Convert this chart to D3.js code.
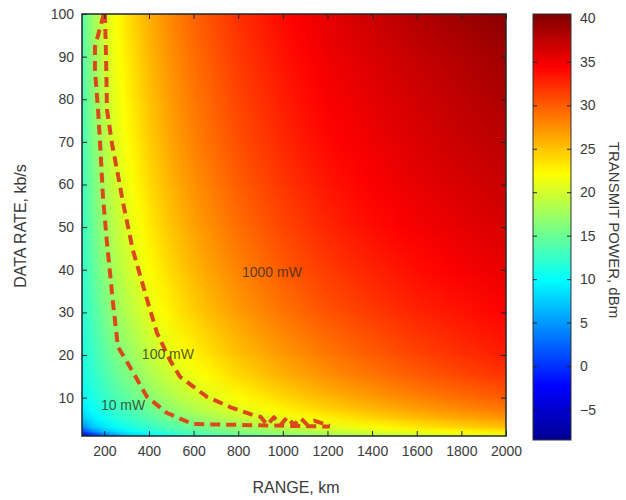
<!DOCTYPE html>
<html><head><meta charset="utf-8">
<script src="https://cdn.jsdelivr.net/npm/d3@7"></script>
<style>
html,body{margin:0;padding:0;background:#fff;}
svg{display:block;font-family:"Liberation Sans",Arial,Helvetica,sans-serif;}
</style></head><body>
<svg id="chart" width="626" height="500"></svg>
<script>
// ---- data ----
const ranges = [100,150,200,250,300,400,500,600,700,800,1000,1200,1400,1600,1800,2000]; // km
const rates  = [1,2,3,5,7,10,15,20,30,40,50,60,70,80,90,100]; // kb/s
// transmit power (dBm), one row per data rate (ascending), one column per range
const power = [
  [-7,  -2,   2,   4.5, 6.5,  9,   11,  12.5, 13.5, 14.5, 16,  17.5, 18.5, 19.5, 20.5, 21],
  [ 0,   4,   6.5, 8,   9.3, 11.2, 12.8, 14,  15,   16,   17.5, 19,  20.3, 21.3, 22.3, 23],
  [ 4,   7,   8.6, 9.8, 10.8, 12.4, 13.8, 15, 16.2, 17.3, 19,  20.6, 21.9, 23.1, 24.1, 25],
  [ 7,   9,  10.4, 11.4, 12.2, 13.8, 15.4, 16.8, 18, 19.1, 21, 22.6, 23.9, 25.1, 26.1, 27],
  [ 8.5, 10.2, 11.4, 12.4, 13.2, 15, 16.8, 18.2, 19.4, 20.6, 22.5, 24.1, 25.4, 26.6, 27.6, 28.5],
  [10,  11.2, 12.4, 13.5, 14.4, 16.4, 18.2, 19.6, 20.9, 22.1, 24, 25.6, 26.9, 28.1, 29.1, 30],
  [10.8, 12,  13.4, 14.7, 15.8, 18, 19.8, 21.4, 22.7, 23.9, 25.8, 27.4, 28.7, 29.9, 30.9, 31.8],
  [11.2, 12.6, 14.2, 15.6, 16.8, 19.2, 21, 22.6, 23.9, 25.1, 27, 28.6, 29.9, 31.1, 32.1, 33],
  [11.7, 13.6, 15.5, 17.2, 18.5, 20.8, 22.8, 24.4, 25.7, 26.9, 28.8, 30.4, 31.6, 32.7, 33.5, 34.3],
  [12.1, 14.3, 16.5, 18.2, 19.6, 22, 24, 25.6, 26.9, 28.1, 30, 31.6, 32.8, 33.8, 34.7, 35.4],
  [12.4, 15,  17.3, 19,  20.5, 23, 25, 26.6, 27.9, 29.1, 31, 32.6, 33.8, 34.8, 35.6, 36.3],
  [12.7, 15.5, 18,  19.8, 21.3, 23.8, 25.8, 27.4, 28.7, 29.9, 31.8, 33.4, 34.5, 35.5, 36.3, 37],
  [13,  16,  18.5, 20.5, 22,  24.5, 26.5, 28.1, 29.4, 30.6, 32.5, 34.1, 35.1, 36.1, 37, 37.7],
  [13.3, 16.5, 19,  21,  22.5, 25, 27, 28.6, 29.9, 31.1, 33, 34.6, 35.6, 36.6, 37.5, 38.3],
  [13.6, 17,  19.5, 21.5, 23, 25.5, 27.5, 29.1, 30.4, 31.6, 33.5, 35.1, 36.2, 37.2, 38.1, 39],
  [14,  17.5, 20,  22,  23.5, 26, 28, 29.6, 30.9, 32.1, 34, 35.6, 36.9, 38.1, 39.1, 40]
];
const xTicks = [200,400,600,800,1000,1200,1400,1600,1800,2000];
const yTicks = [10,20,30,40,50,60,70,80,90,100];
const cbTicks = [-5,0,5,10,15,20,25,30,35,40];
const cbDomain = [-8.5, 40.5];

// dashed boundaries (range km, rate kb/s)
const innerRange = [196,194,158,158,172,181,194,212,239,261,315,391,481,597,1211];
const innerRate  = [100,99.3,92.3,86.9,77.5,69.7,57.1,46.3,32.2,21.9,17.2,10.2,6.4,3.8,3.2];
const outerRange = [196,203,208,212,234,257,284,328,396,436,494,539,660,763,866,900,930,960,990,1020,1050,1080,1110,1140,1211];
const outerRate  = [100,99.8,89.2,77.5,69.7,63.4,55.7,44.6,32.2,25.2,18.8,14.9,10.2,7.8,5.9,5.5,3.6,5.4,3.6,5.4,3.6,5.2,3.6,4.6,3.4];

const regionLabels = ["1000 mW","100 mW","10 mW"];
const regionRange  = [951, 485, 284];
const regionRate   = [39.5, 20.2, 8.3];

// ---- drawing ----
const svg = d3.select("#chart");
const L=82, R=506, T=14, B=436;
const x = d3.scaleLinear().domain([100,2000]).range([L,R]);
const y = d3.scaleLinear().domain([1,100]).range([B,T]);

const span = cbDomain[1]-cbDomain[0];
const jetStops = [0,0.125,0.375,0.625,0.875,1];
const color = d3.scaleLinear()
  .domain(jetStops.map(f=>cbDomain[0]+f*span))
  .range(["#00008f","#0000ff","#00ffff","#ffff00","#ff0000","#800000"])
  .clamp(true);

const defs = svg.append("defs");
defs.append("clipPath").attr("id","plotclip").append("rect")
  .attr("x",L).attr("y",T).attr("width",R-L).attr("height",B-T);

// one horizontal gradient per data-rate row, stops at each range sample
power.forEach((row,i)=>{
  const g = defs.append("linearGradient").attr("id","row"+i)
    .attr("gradientUnits","userSpaceOnUse")
    .attr("x1",x(ranges[0])).attr("x2",x(ranges[ranges.length-1])).attr("y1",0).attr("y2",0);
  ranges.forEach((r,j)=>{
    g.append("stop").attr("offset",(x(r)-L)/(R-L)).attr("stop-color",color(row[j]));
    if(j<ranges.length-1){
      for(let k=1;k<4;k++){
        const t=k/4;
        const xr = r + (ranges[j+1]-r)*t;
        const v = row[j] + (row[j+1]-row[j])*t;
        g.append("stop").attr("offset",(x(xr)-L)/(R-L)).attr("stop-color",color(v));
      }
    }
  });
});
// vertical fade used to blend a row into the one above it
const fadeGrad = defs.append("linearGradient").attr("id","fadeGrad")
  .attr("x1",0).attr("y1",0).attr("x2",0).attr("y2",1);
fadeGrad.append("stop").attr("offset",0).attr("stop-color","#fff").attr("stop-opacity",1);
fadeGrad.append("stop").attr("offset",1).attr("stop-color","#fff").attr("stop-opacity",0);
defs.append("mask").attr("id","fade").attr("maskContentUnits","objectBoundingBox")
  .style("mask-type","alpha")
  .append("rect").attr("x",0).attr("y",0).attr("width",1).attr("height",1).attr("fill","url(#fadeGrad)");

const heat = svg.append("g").attr("clip-path","url(#plotclip)");
const bands = d3.range(rates.length-1);
heat.selectAll("rect.lo").data(bands).join("rect").attr("class","lo")
  .attr("x",L).attr("width",R-L)
  .attr("y",i=>y(rates[i+1])-0.5).attr("height",i=>y(rates[i])-y(rates[i+1])+1)
  .attr("fill",i=>`url(#row${i})`);
heat.selectAll("rect.hi").data(bands).join("rect").attr("class","hi")
  .attr("x",L).attr("width",R-L)
  .attr("y",i=>y(rates[i+1])-0.5).attr("height",i=>y(rates[i])-y(rates[i+1])+1)
  .attr("fill",i=>`url(#row${i+1})`).attr("mask","url(#fade)");

// dashed boundaries
const line = d3.line().x(d=>x(d[0])).y(d=>y(d[1]));
const plotG = svg.append("g").attr("clip-path","url(#plotclip)");
[[innerRange,innerRate],[outerRange,outerRate]].forEach(([rr,dd])=>{
  plotG.append("path").datum(rr.map((v,i)=>[v,dd[i]]))
    .attr("d",line).attr("fill","none")
    .attr("stroke","#d9491b").attr("stroke-width",4)
    .attr("stroke-dasharray","10,6").attr("stroke-linejoin","round");
});

// region labels
svg.append("g").selectAll("text").data(regionLabels).join("text")
  .attr("x",(d,i)=>x(regionRange[i])).attr("y",(d,i)=>y(regionRate[i]))
  .attr("dy","0.35em").attr("text-anchor","middle")
  .attr("font-size",14).attr("fill","#2b2b1c").attr("fill-opacity",0.8)
  .text(d=>d);

// axes
const textCol = "#3a3a3a";
function styleAxis(g){
  g.select(".domain").remove();
  g.selectAll("line").attr("stroke","#222");
  g.selectAll("text").attr("fill",textCol).attr("font-size",14);
  g.attr("font-family",null);
}
const fmt = d3.format("d");
svg.append("g").attr("transform",`translate(0,${B})`)
  .call(d3.axisBottom(x).tickValues(xTicks).tickFormat(fmt).tickSize(-5).tickPadding(10)).call(styleAxis);
svg.append("g").attr("transform",`translate(0,${T})`)
  .call(d3.axisTop(x).tickValues(xTicks).tickSize(-5).tickFormat("")).call(styleAxis);
svg.append("g").attr("transform",`translate(${L},0)`)
  .call(d3.axisLeft(y).tickValues(yTicks).tickFormat(fmt).tickSize(-5).tickPadding(8)).call(styleAxis);
svg.append("g").attr("transform",`translate(${R},0)`)
  .call(d3.axisRight(y).tickValues(yTicks).tickSize(-5).tickFormat("")).call(styleAxis);
svg.append("rect").attr("x",L).attr("y",T).attr("width",R-L).attr("height",B-T)
  .attr("fill","none").attr("stroke","#1e2a2a").attr("stroke-width",1.5);

// axis titles
svg.append("text").attr("x",296).attr("y",493).attr("text-anchor","middle")
  .attr("font-size",16).attr("fill",textCol).text("RANGE, km");
svg.append("text").attr("transform","translate(26,226) rotate(-90)").attr("text-anchor","middle")
  .attr("font-size",16).attr("fill",textCol).text("DATA RATE, kb/s");

// colorbar
const CL=533, CR=571, CT=14, CB=440;
const cy = d3.scaleLinear().domain(cbDomain).range([CB,CT]);
const grad = defs.append("linearGradient").attr("id","cbgrad")
  .attr("x1",0).attr("y1",1).attr("x2",0).attr("y2",0);
grad.selectAll("stop").data(jetStops).join("stop")
  .attr("offset",d=>d).attr("stop-color",d=>color(cbDomain[0]+d*span));
svg.append("rect").attr("x",CL).attr("y",CT).attr("width",CR-CL).attr("height",CB-CT)
  .attr("fill","url(#cbgrad)").attr("stroke","#333").attr("stroke-width",1);
svg.append("g").attr("transform",`translate(${CR},0)`)
  .call(d3.axisRight(cy).tickValues(cbTicks).tickFormat(fmt).tickSize(-4).tickPadding(9)).call(styleAxis);
svg.append("g").attr("transform",`translate(${CL},0)`)
  .call(d3.axisLeft(cy).tickValues(cbTicks).tickSize(-4).tickFormat("")).call(styleAxis);
svg.append("text").attr("transform","translate(609,230) rotate(90)").attr("text-anchor","middle")
  .attr("font-size",15).attr("fill",textCol).text("TRANSMIT POWER, dBm");
</script>
</body></html>
